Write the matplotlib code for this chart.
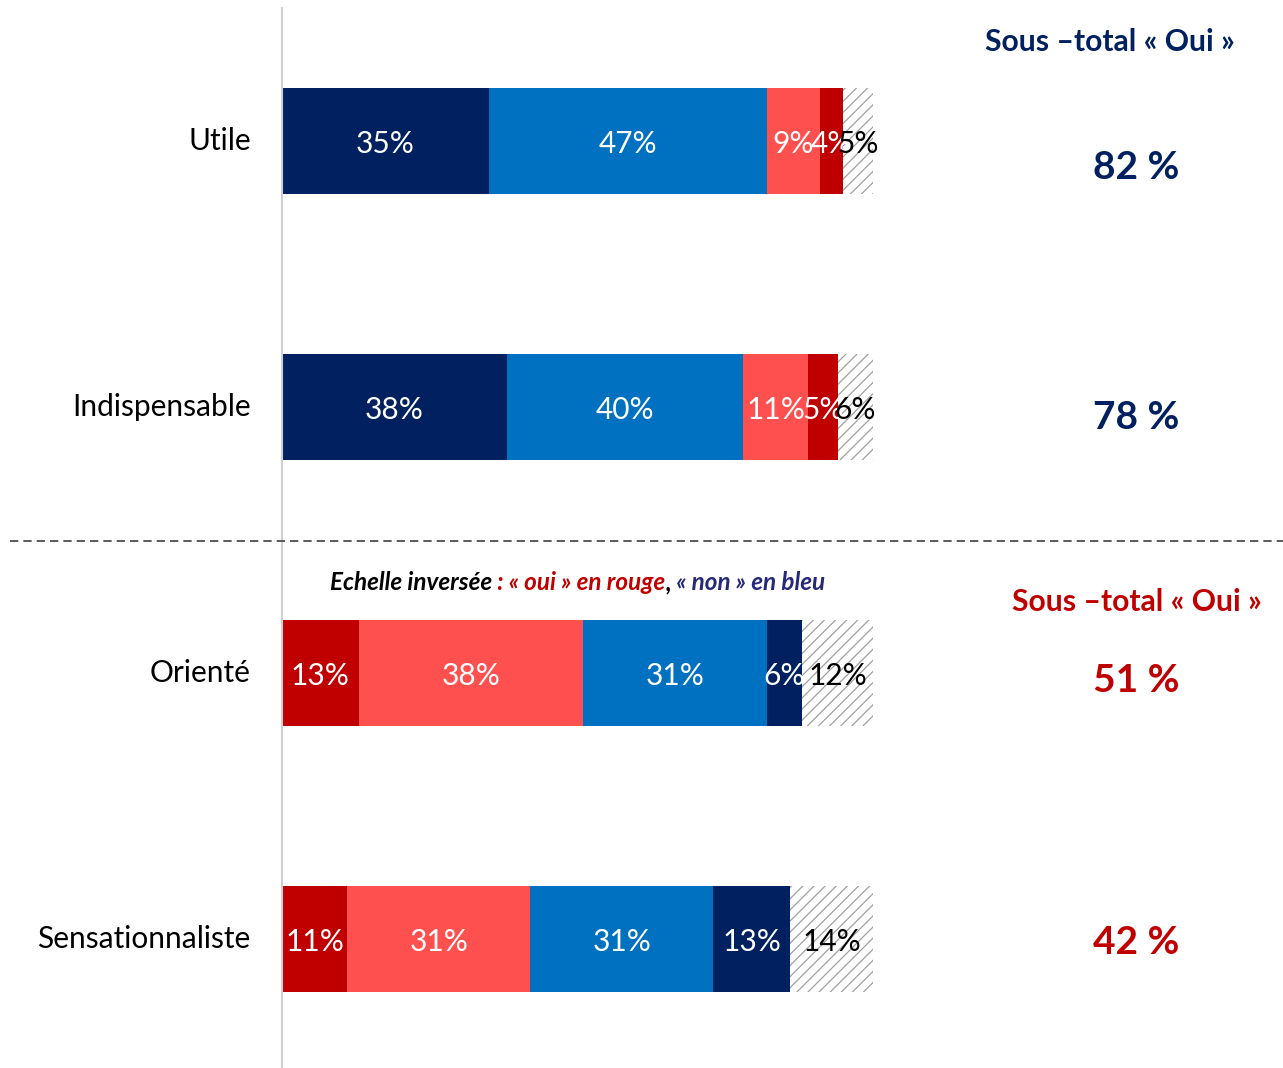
import matplotlib
matplotlib.use("Agg")
import matplotlib.pyplot as plt
import numpy as np

plt.rcParams['font.family'] = ['Lato', 'DejaVu Sans']
plt.rcParams['hatch.linewidth'] = 0.9

# données
items = ["Utile", "Indispensable", "Orienté", "Sensationnaliste"]
vals = [
    [35, 47, 9, 4, 5],
    [38, 40, 11, 5, 6],
    [13, 38, 31, 6, 12],
    [11, 31, 31, 13, 14],
]
sous_total = [82, 78, 51, 42]

navy = "#002060"
blue = "#0070C0"
lred = "#FF5050"
dred = "#C00000"
seg_colors_top = [navy, blue, lred, dred, "white"]
seg_colors_bot = [dred, lred, blue, navy, "white"]

W, H = 1283, 1068
fig = plt.figure(figsize=(W / 100, H / 100), dpi=100)
# axes: x 0..100 -> pixels 282..873 ; rows at 141 + 266*i
ax = fig.add_axes([282 / W, 0, 591 / W, 1])
ax.set_xlim(0, 100)
ax.set_ylim((H - 141) / 266, -141 / 266)
ax.axis("off")

for i, row in enumerate(vals):
    cols = seg_colors_top if i < 2 else seg_colors_bot
    left = 0
    for j, v in enumerate(row):
        hatched = j == 4
        ax.barh(i, v, left=left, height=106 / 266, color=cols[j],
                edgecolor="#a0a0a0" if hatched else cols[j],
                linewidth=0, hatch="///" if hatched else None)
        ax.text(left + v / 2, i + 0.01, f"{v}%", ha="center", va="center",
                fontsize=21.5, color="black" if hatched else "white")
        left += v
    ax.text(-5.3, i, items[i], ha="right", va="center", fontsize=21.5,
            color="black", clip_on=False)

# sous-totaux
offs = [0.1, 0.04, 0.03, 0.015]
for i, st in enumerate(sous_total):
    ax.text(144.5, i + offs[i], f"{st} %", ha="center", va="center",
            fontsize=28, fontweight="bold", color=navy if i < 2 else dred,
            clip_on=False)

fig.text(1110 / W, 1 - 42 / H, "Sous \u2013total \u00ab Oui \u00bb", ha="center",
         va="center", fontsize=21.7, fontweight="bold", color=navy)
fig.text(1137 / W, 1 - 602 / H, "Sous \u2013total \u00ab Oui \u00bb", ha="center",
         va="center", fontsize=21.7, fontweight="bold", color=dred)

# lignes
fig.add_artist(plt.Line2D([282 / W, 282 / W], [0, 1 - 8 / H],
                          color="#d0d0d0", lw=1.5))
fig.add_artist(plt.Line2D([10 / W, 1], [1 - 541 / H, 1 - 541 / H],
                          color="#404040", lw=1.2, ls=(0, (5, 3))))

# note en italique multicolore
parts = [("Echelle invers\u00e9e", "black"),
         (" : \u00ab oui \u00bb en rouge", dred),
         (",", "black"),
         (" \u00ab non \u00bb en bleu", "#26287a")]
fig.canvas.draw()
renderer = fig.canvas.get_renderer()
x = 330
for s, c in parts:
    t = fig.text(x / W, 1 - 583 / H, s, ha="left", va="center", fontsize=17.5,
                 fontweight="bold", style="italic", color=c)
    x = t.get_window_extent(renderer).x1

fig.savefig("out.png", dpi=100)
